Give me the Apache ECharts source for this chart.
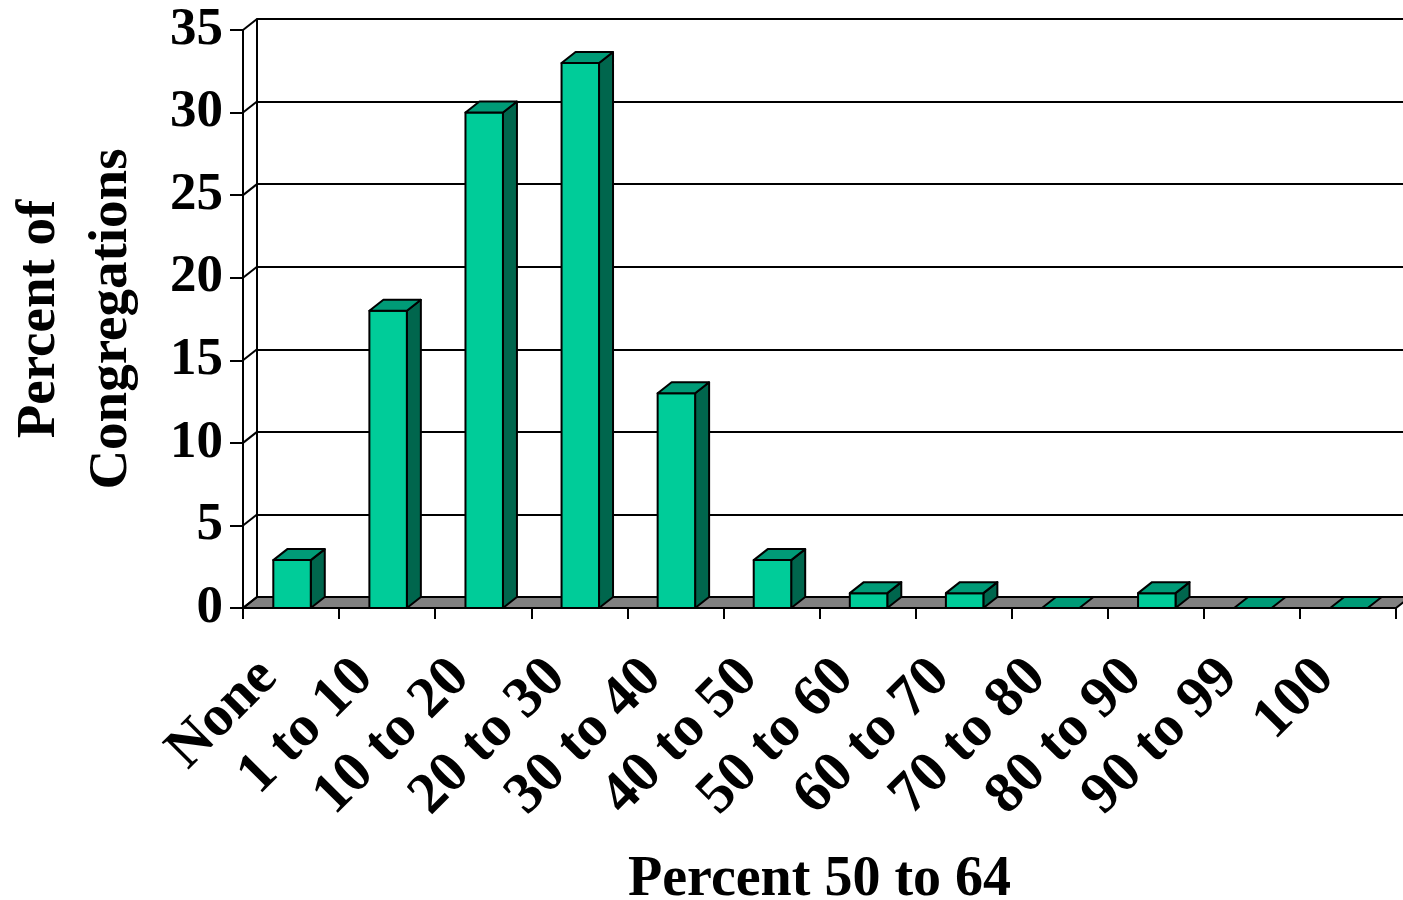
<!DOCTYPE html>
<html>
<head>
<meta charset="utf-8">
<script src="https://cdn.jsdelivr.net/npm/echarts@6/dist/echarts.min.js"></script>
<style>html,body{margin:0;padding:0;background:#fff}#c{width:1403px;height:900px}</style>
</head>
<body>
<div id="c"></div>
<script>
// ---- data ----
var categories = ['None', '1 to 10', '10 to 20', '20 to 30', '30 to 40', '40 to 50', '50 to 60', '60 to 70', '70 to 80', '80 to 90', '90 to 99', '100'];
var values = [2.9, 18, 30, 33, 13, 2.9, 0.9, 0.9, 0, 0.9, 0, 0];
var yTicks = [0, 5, 10, 15, 20, 25, 30, 35];
var xTitle = 'Percent 50 to 64';
var yTitle = 'Percent of\nCongregations';

// ---- style constants ----
var DX = 14, DY = -11;
var FONT = '"Liberation Serif", "Times New Roman", serif';
var FRONT = '#00CC99', TOP = '#009B77', SIDE = '#00664D';

var chart = echarts.init(document.getElementById('c'), null, {renderer: 'canvas'});

var option = {
  backgroundColor: '#ffffff',
  animation: false,
  grid: [
    {left: 243, top: 30, width: 1153, height: 578, containLabel: false, outerBoundsMode: 'none'},
    {left: 243 + DX, top: 30 + DY, width: 1153, height: 578, containLabel: false, outerBoundsMode: 'none'}
  ],
  xAxis: [
    {
      gridIndex: 0, type: 'category', data: categories, boundaryGap: true,
      axisLine: {show: true, lineStyle: {color: '#000', width: 2}},
      axisTick: {show: true, length: 11, lineStyle: {color: '#000', width: 2}},
      axisLabel: {rotate: 45, margin: 38, padding: [0, 32, 0, 0], color: '#000', fontFamily: FONT, fontWeight: 'bold', fontSize: 58, interval: 0},
      name: xTitle, nameLocation: 'middle', nameGap: 245,
      nameTextStyle: {color: '#000', fontFamily: FONT, fontWeight: 'bold', fontSize: 56}
    },
    {
      gridIndex: 1, type: 'category', data: categories, boundaryGap: true, show: false
    }
  ],
  yAxis: [
    {
      gridIndex: 0, type: 'value', min: 0, max: 35, interval: 5,
      axisLine: {show: true, lineStyle: {color: '#000', width: 2}},
      axisTick: {show: true, length: 13, lineStyle: {color: '#000', width: 2}},
      splitLine: {show: false},
      axisLabel: {margin: 20, color: '#000', fontFamily: FONT, fontWeight: 'bold', fontSize: 53},
      name: yTitle, nameLocation: 'middle', nameGap: 95, nameRotate: 90,
      nameTextStyle: {color: '#000', fontFamily: FONT, fontWeight: 'bold', fontSize: 55, lineHeight: 72, align: 'center'}
    },
    {
      gridIndex: 1, type: 'value', min: 0, max: 35, interval: 5,
      axisLine: {show: true, lineStyle: {color: '#000', width: 2}},
      axisTick: {show: false}, axisLabel: {show: false},
      splitLine: {show: true, lineStyle: {color: '#000', width: 2}}
    }
  ],
  series: [
    // floor
    {
      type: 'custom', xAxisIndex: 0, yAxisIndex: 0, z: 3, silent: true,
      data: [[0]],
      renderItem: function (params, api) {
        var cs = params.coordSys;
        var x0 = cs.x, x1 = cs.x + cs.width, y0 = api.coord([0, 0])[1];
        return {
          type: 'polygon',
          shape: {points: [[x0, y0], [x1, y0], [x1 + DX, y0 + DY], [x0 + DX, y0 + DY]]},
          style: {fill: '#808080', stroke: '#000', lineWidth: 2}
        };
      }
    },
    // side wall diagonals at each y tick
    {
      type: 'custom', xAxisIndex: 0, yAxisIndex: 0, z: 4, silent: true,
      data: yTicks.map(function (v) { return [v]; }),
      renderItem: function (params, api) {
        var cs = params.coordSys;
        var y = api.coord([0, api.value(0)])[1];
        return {
          type: 'line',
          shape: {x1: cs.x, y1: y, x2: cs.x + DX, y2: y + DY},
          style: {stroke: '#000', lineWidth: 2}
        };
      }
    },
    // 3D bars
    {
      type: 'custom', xAxisIndex: 0, yAxisIndex: 0, z: 5, silent: true,
      data: values.map(function (v, i) { return [i, v]; }),
      renderItem: function (params, api) {
        var i = api.value(0), v = api.value(1);
        var base = api.coord([i, 0]);
        var top = api.coord([i, v]);
        var bw = api.size([1, 0])[0] * 0.39;
        var xl = base[0] - bw / 2 + 1, xr = base[0] + bw / 2 + 1;
        var yb = base[1], yt = top[1];
        var st = {stroke: '#000', lineWidth: 2, lineJoin: 'round'};
        var children = [];
        if (v > 0) {
          children.push({type: 'polygon', shape: {points: [[xr, yt], [xr + DX, yt + DY], [xr + DX, yb + DY], [xr, yb]]},
            style: Object.assign({fill: SIDE}, st)});
          children.push({type: 'rect', shape: {x: xl, y: yt, width: xr - xl, height: yb - yt},
            style: Object.assign({fill: FRONT}, st)});
        }
        children.push({type: 'polygon', shape: {points: [[xl, yt], [xr, yt], [xr + DX, yt + DY], [xl + DX, yt + DY]]},
          style: Object.assign({fill: TOP}, st)});
        return {type: 'group', children: children};
      }
    }
  ]
};
chart.setOption(option);
</script>
</body>
</html>
